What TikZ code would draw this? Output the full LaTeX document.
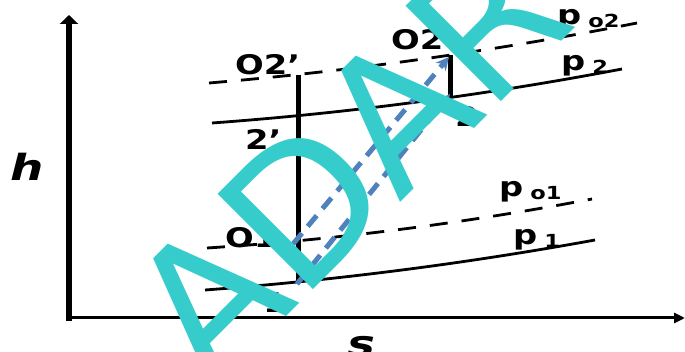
\documentclass[tikz,border=0pt]{standalone}
\usepackage{fontspec}
\setmainfont{DejaVu Sans}
\newfontfamily\lblfont[FakeStretch=1.25]{DejaVu Sans Bold}
\newfontfamily\axfont[FakeStretch=1.3]{DejaVu Sans}
\newfontfamily\wmfont{DejaVu Sans}
\usetikzlibrary{arrows.meta,calc}
\definecolor{flowblue}{RGB}{79,129,189}
\definecolor{wmcyan}{RGB}{54,204,204}
\newcommand\mysub[1]{\hspace{7pt}\raisebox{-3pt}{\fontsize{18}{18}\selectfont #1}}
\begin{document}
\begin{tikzpicture}[x=1pt,y=-1pt,
  isobar/.style={line width=2.8pt,black},
  isobardash/.style={isobar,dash pattern=on 18pt off 14pt},
  vline/.style={line width=5pt,black},
  flow/.style={line width=5pt,flowblue,dash pattern=on 14pt off 9pt,
    -{Stealth[length=13pt,width=13pt]}},
  lbl/.style={font=\lblfont\fontsize{27}{27}\selectfont,inner sep=0pt,anchor=base west},
  axlbl/.style={font=\axfont\bfseries\itshape\fontsize{36}{36}\selectfont,inner sep=0pt}]
\useasboundingbox (0,0) rectangle (685,352);

% axes
\coordinate (yb) at (69,321);
\coordinate (yt) at (69,15);
\coordinate (xl) at (66,318);
\coordinate (xr) at (685,318);
\draw[line width=6pt,-{Triangle[width=18pt,length=9pt]}] (yb) -- (yt);
\draw[line width=3pt,-{Triangle[width=10pt,length=11pt]}] (xl) -- (xr);

% isobars
\coordinate (p1a) at (205,290);  \coordinate (p1b) at (595,240);
\coordinate (p01a) at (207,248); \coordinate (p01b) at (592,199);
\coordinate (p2a) at (212,123);  \coordinate (p2b) at (622,69);
\coordinate (p02a) at (209,83);  \coordinate (p02b) at (637,23);
\draw[isobar] (p1a) .. controls ($(p1a)!0.333!(p1b)+(0,7)$) and ($(p1a)!0.667!(p1b)+(0,7)$) .. (p1b);
\draw[isobardash] (p01a) .. controls ($(p01a)!0.333!(p01b)+(0,8)$) and ($(p01a)!0.667!(p01b)+(0,8)$) .. (p01b);
\draw[isobar] (p2a) .. controls ($(p2a)!0.333!(p2b)+(0,8)$) and ($(p2a)!0.667!(p2b)+(0,8)$) .. (p2b);
\draw[isobardash] (p02a) .. controls ($(p02a)!0.333!(p02b)+(0,8)$) and ($(p02a)!0.667!(p02b)+(0,8)$) .. (p02b);

% state points
\coordinate (o2p) at (298,75);
\coordinate (one) at (298,283);
\coordinate (o1) at (293,244);
\coordinate (o2) at (450,55);
\coordinate (two) at (450,96);
\coordinate (onef) at (297,284);
\coordinate (twof) at (450,94);
\coordinate (o2f) at (449,57);

\draw[vline] (o2p) -- (one);
\draw[vline] (o2) -- (two);
\draw[flow] (o1) -- (o2f);
\draw[flow] (onef) -- (twof);

% labels
\node[lbl] (lo2p) at (235,75) {O2’};
\node[lbl] (l2p) at (245,150) {2’};
\node[lbl] (lo1) at (225,248) {O1};
\node[lbl] (l1) at (263,313) {1};
\node[lbl] (lo2) at (391,50) {O2};
\node[lbl] (l2) at (455,127) {2};
\node[lbl] (lp02) at (557,25) {p\mysub{o2}};
\node[lbl] (lp2) at (561,71) {p\mysub{2}};
\node[lbl] (lp01) at (499,197) {p\mysub{o1}};
\node[lbl] (lp1) at (513,245) {p\mysub{1}};
\node[axlbl] (lh) at (27,167) {h};

\begin{scope}
\clip (0,0) rectangle (685,352);
\node[axlbl] (ls) at (361,347) {s};
\node[rotate=45,anchor=base west,inner sep=0pt,text=wmcyan,
  font=\wmfont\fontsize{185}{185}\selectfont] (wm) at (211,392) {ADAR};
\end{scope}
\end{tikzpicture}
\end{document}
